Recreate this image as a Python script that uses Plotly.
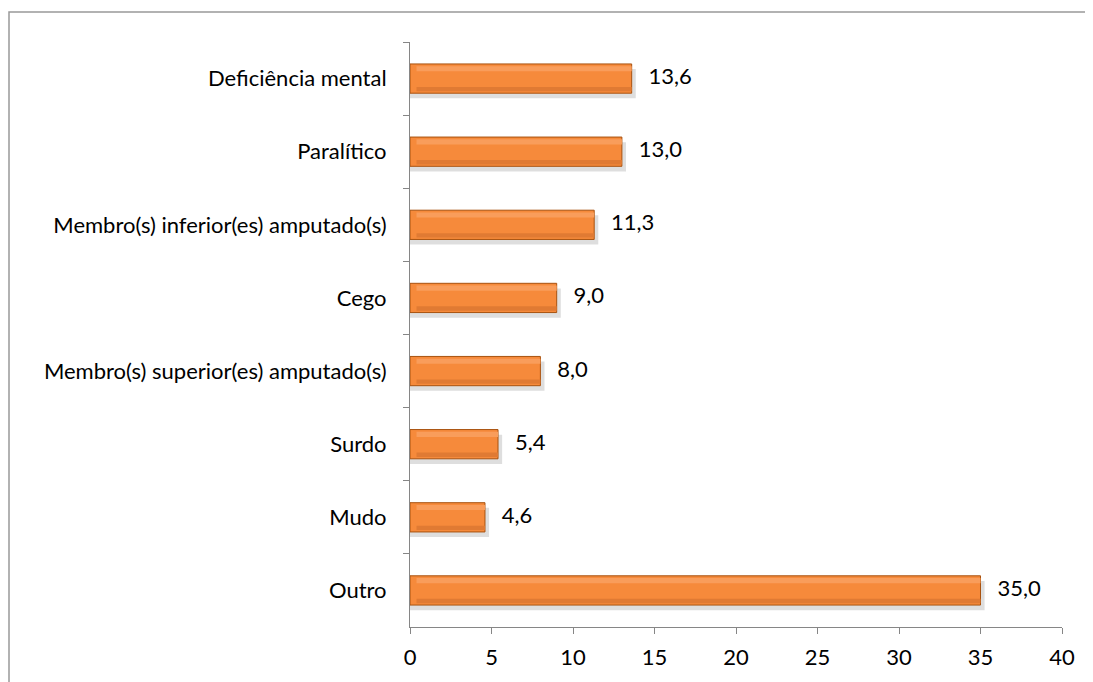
import plotly.graph_objects as go

categories = ["Deficiência mental", "Paralítico", "Membro(s) inferior(es) amputado(s)",
              "Cego", "Membro(s) superior(es) amputado(s)", "Surdo", "Mudo", "Outro"]
values = [13.6, 13.0, 11.3, 9.0, 8.0, 5.4, 4.6, 35.0]
x_ticks = [0, 5, 10, 15, 20, 25, 30, 35, 40]

labels = ["   " + f"{v:.1f}".replace(".", ",") for v in values]

FONT = "Lato, Calibri, Carlito, sans-serif"
FS = 22
W = 0.4

fig = go.Figure()
# soft shadow
fig.add_trace(go.Bar(y=categories, x=[v + 0.25 for v in values], orientation="h",
                     width=W, offset=-W / 2 + 0.07,
                     marker=dict(color="rgba(90,90,90,0.20)", line=dict(width=0)),
                     hoverinfo="skip", showlegend=False))
# main bar
fig.add_trace(go.Bar(y=categories, x=values, orientation="h",
                     width=W, offset=-W / 2,
                     marker=dict(color="#F68A3B", line=dict(color="#A8520F", width=1)),
                     showlegend=False))
# top highlight
fig.add_trace(go.Bar(y=categories, x=[v - 0.4 for v in values], base=0.4, orientation="h",
                     width=0.07, offset=-W / 2 + 0.03,
                     marker=dict(color="#F99D5B", line=dict(width=0)),
                     hoverinfo="skip", showlegend=False))
# bottom shade
fig.add_trace(go.Bar(y=categories, x=[v - 0.4 for v in values], base=0.4, orientation="h",
                     width=0.06, offset=W / 2 - 0.085,
                     marker=dict(color="#E07A33", line=dict(width=0)),
                     hoverinfo="skip", showlegend=False))
# data labels
fig.add_trace(go.Scatter(y=categories, x=values, mode="text", text=labels,
                         textposition="middle right",
                         textfont=dict(family=FONT, size=FS, color="#000000"),
                         hoverinfo="skip", showlegend=False, cliponaxis=False))

fig.update_layout(
    width=1085, height=674,
    margin=dict(l=402, r=31, t=34, b=55),
    barmode="overlay",
    plot_bgcolor="white", paper_bgcolor="white",
    font=dict(family=FONT, size=FS, color="#000000"),
    xaxis=dict(range=[0, 40], tickvals=x_ticks, ticks="outside", ticklen=6,
               tickcolor="#868686", showline=True, linecolor="#868686", linewidth=1,
               showgrid=False, zeroline=False, tickfont=dict(size=FS),
               ticklabelstandoff=5),
    yaxis=dict(categoryorder="array", categoryarray=categories, autorange="reversed",
               ticks="outside", ticklen=6, tickcolor="#868686", tickson="boundaries",
               showline=True, linecolor="#868686", linewidth=1, showgrid=False,
               ticklabelstandoff=18, tickfont=dict(size=FS)),
    shapes=[dict(type="rect", xref="paper", yref="paper",
                 x0=(1 - 402) / 652, x1=1.2, y0=-0.2, y1=(34 + 585 - 4) / 585,
                 line=dict(color="#999999", width=1.5), fillcolor="rgba(0,0,0,0)", layer="below")],
)

fig.write_html("out.html")
